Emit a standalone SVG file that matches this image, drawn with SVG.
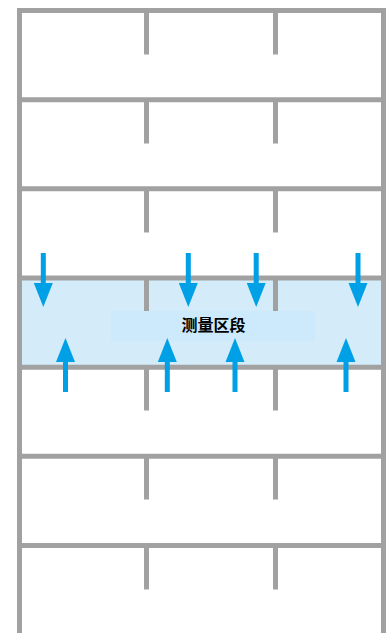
<svg xmlns="http://www.w3.org/2000/svg" width="390" height="633" viewBox="0 0 390 633">
<style>
.ln{stroke:#a0a1a0;stroke-width:5;fill:none}
.ar{fill:#00a0e6}
.lbl{font-family:"Noto Sans CJK SC","Liberation Sans",sans-serif;font-size:16px;font-weight:bold;fill:#000}
</style>
<defs>
<g id="down"><rect x="-2.5" y="0" width="5" height="31" class="ar"/><polygon points="-9.5,30 9.5,30 0,54" class="ar"/></g>
<g id="up"><rect x="-2.5" y="23" width="5" height="31" class="ar"/><polygon points="-9.5,24 9.5,24 0,0" class="ar"/></g>
</defs>
<rect width="390" height="633" fill="#ffffff"/>
<g id="band"><rect x="22" y="279" width="360" height="87" fill="#d4ecf9"/></g>
<g id="wall">
<path class="ln" d="M19.5,633 V10.5 H383.5 V633"/>
<path class="ln" d="M19.5,99.7 H383.5 M19.5,188.8 H383.5 M19.5,278 H383.5 M19.5,367.2 H383.5 M19.5,456.3 H383.5 M19.5,545.5 H383.5"/>
<path class="ln" d="M146.5,12 V54.5 M275.5,12 V54.5 M146.5,101 V143.5 M275.5,101 V143.5 M146.5,190 V232.5 M275.5,190 V232.5 M146.5,279 V321.5 M275.5,279 V321.5 M146.5,368 V410.5 M275.5,368 V410.5 M146.5,457 V499.5 M275.5,457 V499.5 M146.5,547 V589.5 M275.5,547 V589.5"/>
</g>
<g id="label">
<rect x="111" y="311" width="204" height="30" fill="#cdeafc"/>
<text class="lbl" x="213.5" y="330.5" text-anchor="middle">测量区段</text>
</g>
<g id="arrows">
<use href="#down" x="43.3" y="253"/>
<use href="#down" x="188.3" y="253"/>
<use href="#down" x="256.2" y="253"/>
<use href="#down" x="358" y="253"/>
<use href="#up" x="65.5" y="338"/>
<use href="#up" x="167.3" y="338"/>
<use href="#up" x="235" y="338"/>
<use href="#up" x="346" y="338"/>
</g>
</svg>
